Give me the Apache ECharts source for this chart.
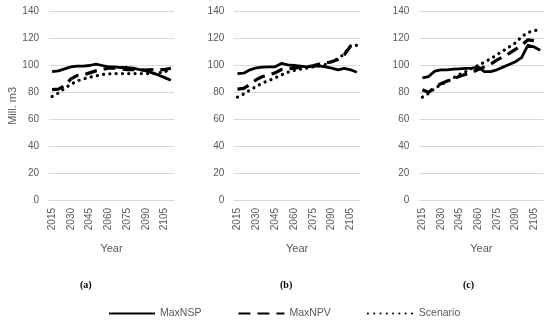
<!DOCTYPE html>
<html>
<head>
<meta charset="utf-8">
<style>html,body{margin:0;padding:0;background:#fff;}#c{width:550px;height:323px;}</style>
<script src="https://cdn.jsdelivr.net/npm/echarts@6/dist/echarts.min.js"></script>
</head>
<body>
<div id="c"></div>
<script>
var years = ['2015','2020','2025','2030','2035','2040','2045','2050','2055','2060','2065','2070','2075','2080','2085','2090','2095','2100','2105','2110'];
var seriesNames = ['MaxNSP','MaxNPV','Scenario'];
var panelLabels = ['(a)','(b)','(c)'];

var nspA = [95.5, 96, 97.5, 99, 99.5, 99.5, 100, 101, 100, 99, 99, 98.5, 98.5, 98, 97, 96, 94.5, 93, 91, 89];
var npvA = [82, 82.5, 85, 90, 92.5, 93, 94.5, 96, 97, 98, 98, 97.5, 97, 97, 97, 96.5, 97, 97, 97, 98];
var scnA = [77, 79.5, 83, 86, 88.5, 90, 91.3, 92.3, 93.3, 93.8, 94, 94, 94, 94, 94, 94, 94, 94.5, 95, 98];

var nspB = [94, 94.3, 96.8, 98.3, 98.8, 99, 99, 101.5, 100.5, 100, 99.5, 99, 99.3, 99.8, 99, 98, 96.8, 97.8, 96.8, 95];
var npvB = [82.5, 83, 86, 89.5, 91.8, 93, 94.5, 97, 97.5, 98, 98.5, 99, 99.8, 101, 101.8, 102.8, 104.5, 108, 114.5, 115];
var scnB = [76.5, 78.8, 81.8, 84.5, 87, 88.8, 90.8, 93, 95, 96.3, 97.3, 98, 99, 99.8, 100.8, 103, 105, 108.8, 114.5, 115];

var nspC = [90.8, 91.8, 95.8, 96.8, 96.8, 97.3, 97.5, 97.8, 98, 98.8, 95.5, 95.5, 96.8, 98.8, 100.8, 102.8, 105.8, 115, 113.8, 111.3];
var npvC = [82, 80, 84, 86.5, 88.5, 90, 92, 93.5, 95, 97, 99, 101, 104, 106.5, 109, 112, 115, 119, 118.5, 117.5];
var scnC = [76.5, 79.3, 83, 85.8, 88, 90.8, 93.3, 95.5, 98, 100, 102.5, 105, 108, 110.8, 113.8, 116.8, 121.3, 124.5, 125.8, 126.8];

var panels = [[nspA, npvA, scnA], [nspB, npvB, scnB], [nspC, npvC, scnC]];

var gridLefts = [49, 234.3, 419.3];
var gridWidths = [125, 125.7, 124];
var labelX = [87, 287, 470];
var gray = '#595959';
var grids = [], xAxes = [], yAxes = [], series = [];
var styles = [
  {type: 'solid', width: 2.8, cap: 'butt'},
  {type: [12, 7], width: 3.2, cap: 'butt'},
  {type: [0.1, 6.2], width: 3.2, cap: 'round'}
];
for (var p = 0; p < 3; p++) {
  grids.push({left: gridLefts[p], top: 11.7, width: gridWidths[p], height: 188.3});
  xAxes.push({
    type: 'category', gridIndex: p, data: years, boundaryGap: true,
    axisTick: {show: false},
    axisLine: {show: true, lineStyle: {color: '#d9d9d9', width: 1}},
    axisLabel: {interval: 2, rotate: 90, margin: 8, color: gray, fontSize: 10, fontFamily: 'Liberation Sans'},
    name: 'Year', nameLocation: 'middle', nameGap: 43,
    nameTextStyle: {color: gray, fontSize: 11, fontFamily: 'Liberation Sans'}
  });
  yAxes.push({
    type: 'value', gridIndex: p, min: 0, max: 140, interval: 20,
    axisLine: {show: false}, axisTick: {show: false},
    splitLine: {lineStyle: {color: '#d9d9d9', width: 1}},
    axisLabel: {color: gray, fontSize: 10, margin: 10, fontFamily: 'Liberation Sans'},
    name: p === 0 ? 'Mill. m3' : '', nameLocation: 'middle', nameGap: 31,
    nameTextStyle: {color: gray, fontSize: 11, fontFamily: 'Liberation Sans'}
  });
  for (var s = 0; s < 3; s++) {
    series.push({
      name: seriesNames[s], type: 'line', xAxisIndex: p, yAxisIndex: p,
      data: panels[p][s], symbol: 'none', smooth: false, silent: true, animation: false,
      lineStyle: {color: '#000', width: styles[s].width, type: styles[s].type, cap: styles[s].cap, join: 'round'},
      itemStyle: {color: '#000'}
    });
  }
}
var graphics = [];
for (var q = 0; q < 3; q++) {
  graphics.push({type: 'text', left: labelX[q] - 7, top: 280,
    style: {text: panelLabels[q], fill: '#000', font: 'bold 10px "Liberation Serif"'}});
}
var chart = echarts.init(document.getElementById('c'), null, {renderer: 'canvas'});
chart.setOption({
  animation: false,
  grid: grids, xAxis: xAxes, yAxis: yAxes, series: series,
  legend: {
    data: seriesNames, left: 103, top: 303, itemWidth: 46, itemHeight: 12, itemGap: 36,
    itemStyle: {opacity: 0},
    textStyle: {color: gray, fontSize: 10.5, fontFamily: 'Liberation Sans'},
    selectedMode: false
  },
  graphic: graphics
});
</script>
</body>
</html>
